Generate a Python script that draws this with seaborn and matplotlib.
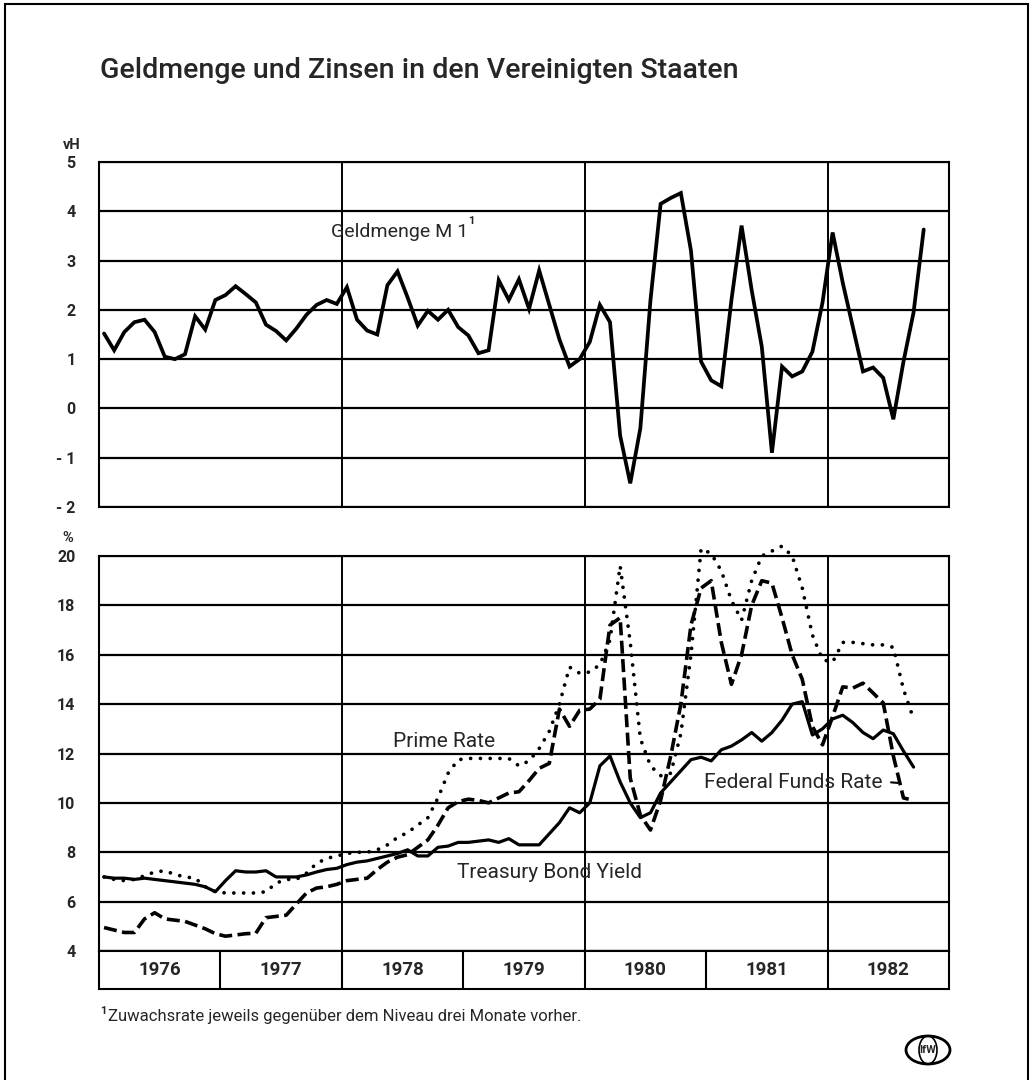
import matplotlib
matplotlib.use("Agg")
import matplotlib.pyplot as plt
import seaborn as sns
import pandas as pd
from matplotlib.patches import Rectangle, Ellipse

# monthly values, Jan 1976 onwards
m1_growth = [1.52, 1.18, 1.55, 1.75, 1.8, 1.55, 1.05, 1.0, 1.1, 1.87, 1.6, 2.2,
             2.3, 2.48, 2.32, 2.15, 1.7, 1.57, 1.38, 1.62, 1.9, 2.1, 2.2, 2.12,
             2.46, 1.8, 1.58, 1.5, 2.5, 2.78, 2.25, 1.68, 1.98, 1.8, 2.0, 1.65,
             1.48, 1.12, 1.18, 2.6, 2.2, 2.62, 2.02, 2.8, 2.1, 1.4, 0.85, 1.0,
             1.35, 2.1, 1.75, -0.55, -1.52, -0.4, 2.2, 4.15, 4.27, 4.37, 3.2, 0.95,
             0.57, 0.45, 2.2, 3.71, 2.4, 1.25, -0.9, 0.85, 0.65, 0.75, 1.15, 2.15,
             3.57, 2.55, 1.65, 0.75, 0.83, 0.62, -0.22, 0.95, 1.95, 3.63]

treasury_yield = [7.0, 6.95, 6.95, 6.9, 6.95, 6.9, 6.85, 6.8, 6.75, 6.7, 6.6, 6.4,
                  6.85, 7.25, 7.2, 7.2, 7.25, 7.0, 7.0, 7.0, 7.08, 7.2, 7.3, 7.35,
                  7.5, 7.6, 7.65, 7.75, 7.85, 7.95, 8.1, 7.85, 7.85, 8.2, 8.25, 8.4,
                  8.4, 8.45, 8.5, 8.4, 8.55, 8.3, 8.3, 8.3, 8.75, 9.2, 9.8, 9.6,
                  10.0, 11.5, 11.9, 10.85, 10.0, 9.4, 9.6, 10.4, 10.85, 11.3, 11.75, 11.85,
                  11.7, 12.15, 12.3, 12.55, 12.85, 12.5, 12.85, 13.35, 14.0, 14.1, 12.75, 13.0,
                  13.4, 13.55, 13.25, 12.85, 12.6, 12.95, 12.8, 12.1, 11.45]

prime_rate = [7.0, 6.9, 6.85, 6.9, 7.05, 7.2, 7.25, 7.1, 7.0, 6.95, 6.6, 6.4,
              6.35, 6.35, 6.35, 6.35, 6.4, 6.75, 6.9, 6.9, 7.15, 7.55, 7.75, 7.85,
              7.95, 8.0, 8.0, 8.1, 8.3, 8.6, 8.8, 9.1, 9.4, 10.2, 11.2, 11.75,
              11.8, 11.8, 11.8, 11.8, 11.8, 11.5, 11.7, 12.2, 12.9, 14.0, 15.5, 15.25,
              15.3, 15.6, 16.6, 19.6, 16.5, 12.6, 11.5, 11.1, 11.2, 12.8, 16.0, 20.3,
              20.1, 19.4, 18.2, 17.4, 19.0, 20.0, 20.2, 20.4, 20.0, 18.7, 16.8, 15.8,
              15.7, 16.5, 16.5, 16.45, 16.4, 16.4, 16.3, 14.6, 13.4]

fed_funds = [4.95, 4.85, 4.75, 4.75, 5.3, 5.55, 5.3, 5.25, 5.2, 5.05, 4.9, 4.7,
             4.6, 4.65, 4.7, 4.72, 5.35, 5.4, 5.45, 5.9, 6.35, 6.55, 6.6, 6.7,
             6.85, 6.9, 6.95, 7.3, 7.6, 7.8, 7.9, 8.2, 8.5, 9.1, 9.8, 10.05,
             10.15, 10.1, 10.0, 10.2, 10.4, 10.45, 10.9, 11.4, 11.6, 13.8, 13.1, 13.75,
             13.8, 14.2, 17.2, 17.5, 11.0, 9.5, 8.9, 10.1, 11.9, 14.0, 17.2, 18.7,
             19.0, 16.5, 14.8, 16.0, 18.0, 19.0, 18.9, 17.5, 16.0, 15.0, 13.1, 12.35,
             13.5, 14.7, 14.65, 14.85, 14.45, 14.05, 11.9, 10.2, 10.1]

years = [1976, 1977, 1978, 1979, 1980, 1981, 1982]
m1_ticks = [-2, -1, 0, 1, 2, 3, 4, 5]
rate_ticks = [4, 6, 8, 10, 12, 14, 16, 18, 20]


def decimal_months(n):
    months = pd.date_range("1976-01-01", periods=n, freq="MS")
    return months.year + (months.month - 0.5) / 12


sns.set_style("white")
plt.rcParams["font.family"] = ["Roboto", "DejaVu Sans"]

W, H = 1035, 1080
fig = plt.figure(figsize=(W / 100, H / 100), dpi=100)


def box(x0, y0, x1, y1):
    # pixel box (top-left origin) -> figure fraction
    return [x0 / W, 1 - y1 / H, (x1 - x0) / W, (y1 - y0) / H]


ax_m1 = fig.add_axes(box(99, 162, 949, 507))
ax_r = fig.add_axes(box(99, 556, 949, 951))
ax_y = fig.add_axes(box(99, 951, 949, 989))

x0, x1 = years[0], years[-1] + 1

# --- top panel: money supply growth
df_m1 = pd.DataFrame({"t": decimal_months(len(m1_growth)), "v": m1_growth})
sns.lineplot(data=df_m1, x="t", y="v", ax=ax_m1, color="black", lw=2.7,
             solid_joinstyle="miter")

# --- bottom panel: interest rates
n = len(treasury_yield)
df_r = pd.DataFrame({"t": decimal_months(n), "treasury": treasury_yield,
                     "prime": prime_rate, "fed": fed_funds})
sns.lineplot(data=df_r, x="t", y="prime", ax=ax_r, color="black", lw=2.7,
             linestyle=(0, (0.01, 2.6)), dash_capstyle="round", clip_on=False)
sns.lineplot(data=df_r, x="t", y="fed", ax=ax_r, color="black", lw=2.6,
             linestyle=(0, (3.6, 1.5)), dash_capstyle="butt", clip_on=False)
sns.lineplot(data=df_r, x="t", y="treasury", ax=ax_r, color="black", lw=2.3)

for ax, ticks in [(ax_m1, m1_ticks), (ax_r, rate_ticks)]:
    ax.set_xlim(x0, x1)
    ax.set_ylim(ticks[0], ticks[-1])
    ax.set_yticks(ticks)
    ax.set_yticklabels([f"- {abs(t)}" if t < 0 else str(t) for t in ticks],
                       fontsize=11.5, fontweight="bold")
    ax.set_xticks([])
    ax.set_xlabel("")
    ax.set_ylabel("")
    ax.tick_params(axis="y", length=0, pad=17)
    ax.set_axisbelow(True)
    for t in ticks:
        ax.axhline(t, color="black", lw=1.6, zorder=0)
    for yr in [1978, 1980, 1982]:
        ax.axvline(yr, color="black", lw=1.4, zorder=0)
    for s in ax.spines.values():
        s.set_color("black")
        s.set_linewidth(1.5)

# year band
ax_y.set_xlim(x0, x1)
ax_y.set_ylim(0, 1)
ax_y.set_xticks([])
ax_y.set_yticks([])
for yr in years[1:]:
    ax_y.axvline(yr, color="black", lw=1.5)
for yr in years:
    ax_y.text(yr + 0.5, 0.5, str(yr), ha="center", va="center",
              fontsize=13.5, fontweight="bold")
for s in ax_y.spines.values():
    s.set_color("black")
    s.set_linewidth(1.5)

# series labels
ax_m1.text(1977.91, 3.58, "Geldmenge M 1", fontsize=14, va="center", ha="left")
ax_m1.text(1979.04, 3.8, "1", fontsize=8, fontweight="bold", va="center")
ax_r.text(1978.42, 12.5, "Prime Rate", fontsize=15, va="center", ha="left")
ax_r.text(1978.95, 7.2, "Treasury Bond Yield", fontsize=15, va="center", ha="left")
ax_r.text(1980.98, 10.84, "Federal Funds Rate", fontsize=15, va="center", ha="left")
ax_r.annotate("", xy=(1982.6, 10.8), xytext=(1982.5, 10.84),
              arrowprops=dict(arrowstyle="-", color="black", lw=1.5))

# axis units and title
fig.text(72 / W, 1 - 145 / H, "vH", ha="center", va="center", fontsize=10.5, fontweight="bold")
fig.text(68 / W, 1 - 538 / H, "%", ha="center", va="center", fontsize=10.5, fontweight="bold")
fig.text(100 / W, 1 - 70 / H, "Geldmenge und Zinsen in den Vereinigten Staaten",
         ha="left", va="center", fontsize=20.5, fontweight="medium")

# footnote
fig.text(100 / W, 1 - 1011 / H, "1", ha="left", va="center", fontsize=8, fontweight="bold")
fig.text(108 / W, 1 - 1017 / H, "Zuwachsrate jeweils gegenüber dem Niveau drei Monate vorher.",
         ha="left", va="center", fontsize=12)

# outer frame
fig.add_artist(Rectangle((5 / W, -0.01), 1023 / W, 1 - 4 / H + 0.01,
                         transform=fig.transFigure, fill=False, lw=1.5, color="black"))

# small globe logo
cx, cy = 928 / W, 1 - 1050 / H
fig.add_artist(Ellipse((cx, cy), 44 / W, 28 / H, transform=fig.transFigure,
                       fill=False, lw=2, color="black"))
fig.add_artist(Ellipse((cx, cy), 18 / W, 28 / H, transform=fig.transFigure,
                       fill=False, lw=1.2, color="black"))
fig.text(cx, cy, "IfW", ha="center", va="center", fontsize=8, fontweight="bold")

fig.savefig("out.png", dpi=100)
